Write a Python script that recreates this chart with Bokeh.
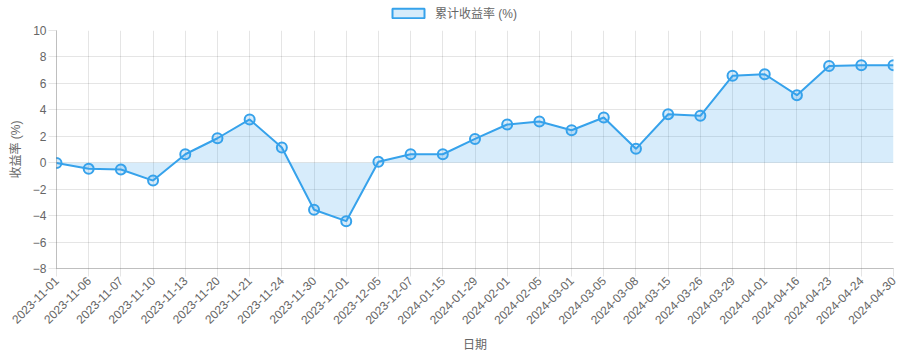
import math
from bokeh.plotting import figure
from bokeh.layouts import column
from bokeh.models import Range1d, FixedTicker, Legend, LegendItem, ColumnDataSource
from bokeh.embed import file_html
from bokeh.resources import INLINE

dates = ["2023-11-01", "2023-11-06", "2023-11-07", "2023-11-10", "2023-11-13",
         "2023-11-20", "2023-11-21", "2023-11-24", "2023-11-30", "2023-12-01",
         "2023-12-05", "2023-12-07", "2024-01-15", "2024-01-29", "2024-02-01",
         "2024-02-05", "2024-03-01", "2024-03-05", "2024-03-08", "2024-03-15",
         "2024-03-26", "2024-03-29", "2024-04-01", "2024-04-16", "2024-04-23",
         "2024-04-24", "2024-04-30"]
returns = [-0.02, -0.46, -0.51, -1.35, 0.64, 1.85, 3.27, 1.15, -3.56, -4.42,
           0.07, 0.64, 0.64, 1.80, 2.89, 3.12, 2.46, 3.42, 1.05, 3.67,
           3.55, 6.57, 6.69, 5.11, 7.31, 7.38, 7.38]
y_ticks = [-8, -6, -4, -2, 0, 2, 4, 6, 8, 10]
series_name = "累计收益率 (%)"
y_title = "收益率 (%)"
x_title = "日期"

FONT = "Liberation Sans, Noto Sans CJK SC"
BLUE = "rgb(54,162,235)"
BLUE_FILL = "rgba(54,162,235,0.2)"
TXT = "#666666"

# ---------- legend strip ----------
lg = figure(width=922, height=22, output_backend="svg", toolbar_location=None,
            x_range=Range1d(0, 1), y_range=Range1d(0, 1),
            x_axis_location=None, y_axis_location=None, min_border=0)
lg.outline_line_color = None
lg.xgrid.visible = False
lg.ygrid.visible = False
swatch = lg.quad(left=[-10], right=[-9], top=[-10], bottom=[-11],
                 fill_color=BLUE_FILL, line_color=BLUE, line_width=2)
legend = Legend(items=[LegendItem(label=series_name, renderers=[swatch])],
                location=(332, 1), orientation="horizontal",
                glyph_width=40, glyph_height=12, label_standoff=7,
                label_text_font=FONT, label_text_font_size="12px", label_text_color=TXT,
                border_line_color=None, background_fill_alpha=0, padding=0, margin=0,
                label_height=12)
lg.add_layout(legend, "center")

# ---------- main chart ----------
idx = list(range(len(dates)))
src = ColumnDataSource(dict(x=idx, y=returns, zero=[0] * len(idx)))

p = figure(width=922, height=334, output_backend="svg", toolbar_location=None,
           x_range=Range1d(0, len(dates) - 1), y_range=Range1d(-8, 10),
           min_border_left=56, min_border_right=29, min_border_top=8, min_border_bottom=88)
p.outline_line_color = None

p.varea(x="x", y1="zero", y2="y", source=src, fill_color=BLUE_FILL)
p.line(x="x", y="y", source=src, line_color=BLUE, line_width=2)
p.scatter(x="x", y="y", source=src, size=10, fill_color=BLUE_FILL, line_color=BLUE, line_width=2)

p.xaxis.ticker = FixedTicker(ticks=idx)
p.xaxis.major_label_overrides = {i: d for i, d in enumerate(dates)}
p.xaxis.major_label_orientation = math.pi / 4
p.xaxis.axis_label = x_title
p.yaxis.ticker = FixedTicker(ticks=y_ticks)
p.yaxis.axis_label = y_title

for ax in (p.xaxis[0], p.yaxis[0]):
    ax.major_label_text_font = FONT
    ax.major_label_text_font_size = "12px"
    ax.major_label_text_color = TXT
    ax.axis_label_text_font = FONT
    ax.axis_label_text_font_size = "12px"
    ax.axis_label_text_color = TXT
    ax.axis_label_text_font_style = "normal"
    ax.axis_line_color = "rgba(0,0,0,0.25)"
    ax.major_tick_line_color = "rgba(0,0,0,0.1)"
    ax.major_tick_in = 0
    ax.major_tick_out = 8
    ax.minor_tick_line_color = None
    ax.major_label_standoff = 2
    ax.axis_label_standoff = 7

p.xgrid.ticker = FixedTicker(ticks=idx)
p.ygrid.ticker = FixedTicker(ticks=y_ticks)
p.xgrid.grid_line_color = "rgba(0,0,0,0.1)"
p.ygrid.grid_line_color = "rgba(0,0,0,0.1)"

layout = column(lg, p, spacing=0)
open("out.html", "w").write(file_html(layout, INLINE))
